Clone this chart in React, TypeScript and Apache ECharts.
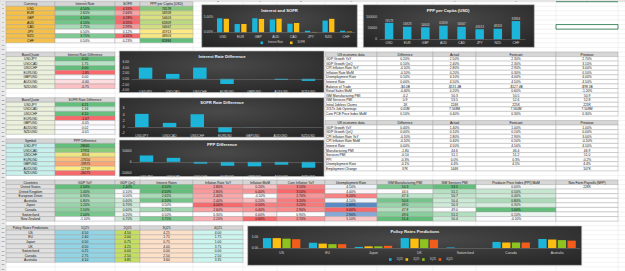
import React, { useEffect, useRef } from 'react';
import * as echarts from 'echarts';

// ---------- DATA ----------
const currencies = ['USD', 'EUR', 'GBP', 'AUD', 'CAD', 'JPY', 'NZD', 'CHF'];
const interestRates = [4.5, 2.65, 4.5, 4.1, 2.75, 0.5, 3.75, 0.5];
const sofrRates = [4.33, 2.66, 4.28, 4.35, 2.99, 0.12, 4.32, 0.23];
const pppPerCapita = [74578, 56928, 54603, 61809, 56667, 45913, 48303, 82884];

const pairs = ['USDJPY', 'USDCAD', 'USDCHF', 'EURUSD', 'GBPUSD', 'AUDUSD', 'NZDUSD'];
const interestDiff = [4.0, 1.75, 4.0, -1.85, 0.0, -0.4, -0.75];
const sofrDiff = [4.21, 1.34, 4.1, -1.67, -0.05, 0.02, -0.01];
const pppDiff = [28665, 17911, -8306, -17650, -19975, -12769, -26275];

const usIndicators = ['GDP Growth YoY', 'GDP Growth QoQ', 'CPI Inflation Rate YoY', 'Inflation Rate MoM', 'Unemployment Rate', 'Interest Rate', 'Balance of Trade', 'Retail Sales MoM', 'ISM Manufacturing PMI', 'ISM Services PMI', 'Initial Jobless Claims', 'JOLTs Job Openings', 'Core PCE Price Index MoM'];
const usDifference = ['0.20%', '0.10%', '-0.10%', '-0.10%', '0.10%', '0.00%', '-$4.0B', '-0.40%', '-0.2', '0.9', '-1K', '0.01M', '0.10%'];
const usActual = ['2.50%', '2.40%', '2.80%', '0.20%', '4.10%', '4.50%', '-$131.4B', '0.20%', '50.3', '53.5', '224K', '7.568M', '0.40%'];
const usForecast = ['2.30%', '2.30%', '2.90%', '0.30%', '4.00%', '4.50%', '-$127.4B', '0.60%', '50.5', '52.6', '225K', '7.560M', '0.30%'];
const usPrevious = ['2.70%', '3.10%', '3.00%', '0.50%', '4.00%', '4.50%', '-$98.1B', '-1.20%', '50.9', '52.8', '223K', '7.508M', '0.30%'];

const ukIndicators = ['GDP Growth YoY', 'GDP Growth QoQ', 'CPI Inflation Rate YoY', 'CPI Inflation Rate MoM', 'Interest Rate', 'Manufacturing PMI', 'Services PMI', 'PPI', 'Unemployment Rate', 'Employment Change'];
const ukDifference = ['0.40%', '0.00%', '-0.10%', '-0.10%', '0.00%', '-1.80', '-0.10', '-0.3%', '-0.1%', '37K'];
const ukActual = ['1.40%', '0.10%', '2.80%', '0.40%', '4.50%', '44.6', '51.1', '0.0%', '4.4%', '144K'];
const ukForecast = ['1.00%', '0.10%', '2.90%', '0.50%', '4.50%', '46.4', '51.2', '0.3%', '4.5%', ''];
const ukPrevious = ['1.00%', '0.00%', '3.00%', '-0.10%', '4.50%', '46.9', '51.0', '-0.2%', '4.4%', '107K'];

const countryHeaders = ['Countries', 'GDP YoY', 'GDP QoQ', 'Interest Rates', 'Inflation Rate YoY', 'Inflation MoM', 'Core Inflation YoY', 'Unemployment Rate', 'ISM Manufacturing PMI', 'ISM Services PMI', 'Producer Price Index (PPI) MoM', 'Non Farm Payrolls (NFP)'];
const countries = ['United States', 'United Kingdom', 'European Union', 'Australia', 'Japan', 'Canada', 'Switzerland', 'New Zealand'];
const gdpYoY = [2.5, 1.4, 0.9, 0.8, 1.2, 1.5, 2.0, -1.1];
const gdpQoQ = [2.4, 0.1, 0.0, 0.6, 0.7, 0.6, 0.2, 0.7];
const countryRates = [4.5, 4.5, 2.65, 4.1, 0.5, 2.75, 0.5, 3.75];
const inflYoY = [2.8, 2.8, 2.4, 2.4, 4.0, 2.6, 0.3, 2.2];
const inflMoM = [0.2, 0.4, -0.1, 0.2, 0.5, 0.4, 0.0, 0.6];
const coreInflYoY = [3.1, 3.5, 2.7, 3.2, 3.2, 2.9, 0.9, 2.7];
const unemployment = [4.1, 4.4, 6.2, 4.1, 2.4, 6.6, 2.9, 5.1];
const ismManufacturing = [50.3, 44.6, 47.3, 50.6, 49.0, 47.8, 49.6, 51.4];
const ismServices = [53.5, 51.1, 50.7, 50.4, 50.3, 49.0, 51.2, 50.4];
const ppiMoM = [0.0, 0.5, 0.4, 0.8, 0.3, 1.6, 0.1, -0.1];
const nfp = ['228K', '', '', '', '', '', '', ''];

const quarters = ['1Q25', '2Q25', '3Q25', '4Q25'];
const policyRegions = ['US', 'EU', 'Japan', 'UK', 'Switzerland', 'Canada', 'Australia'];
const policy1Q25 = [4.5, 2.4, 0.5, 4.5, 0.25, 2.75, 4.1];
const policy2Q25 = [4.5, 2.0, 0.75, 4.25, 0.0, 2.5, 3.85];
const policy3Q25 = [4.25, 1.75, 0.75, 4.0, 0.0, 2.5, 3.6];
const policy4Q25 = [4.0, 1.75, 1.0, 3.75, 0.0, 2.5, 3.35];

const columnLetters = ['A', 'B', 'C', 'D', 'E', 'F', 'G', 'H', 'I', 'J', 'K', 'L'];

// ---------- STYLE ----------
const FONT = "'Liberation Sans', Arial, sans-serif";
const FS = 3.3;
const COLS = [0, 6, 55, 115, 140, 193, 243, 277, 325, 377, 433, 476, 556, 618, 690];
const R0 = 1.7;
const RH = 4.571;
const rowTop = (r: number) => R0 + (r - 1) * RH;

const WHITE = '#FCFCFF';
const GREEN = '#63BE7B';
const RED = '#F8696B';
const YELLOW = '#FFEB84';
const BLUE = '#5A8AC6';
const HEAD = '#d6d6d6';
const LABEL_GRAY = '#e0e0e0';
const CYAN = '#1cb4d9';
const GOLD = '#fdbe12';
const LIME = '#8dc21f';
const ORANGE = '#f25d1b';

function hexToRgb(h: string) {
  const n = parseInt(h.slice(1), 16);
  return [(n >> 16) & 255, (n >> 8) & 255, n & 255];
}
function mix(a: string, b: string, t: number) {
  const A = hexToRgb(a), B = hexToRgb(b);
  const tt = Math.max(0, Math.min(1, t));
  const c = A.map((v, i) => Math.round(v + (B[i] - v) * tt));
  return `rgb(${c.join(',')})`;
}
function scale2(v: number, arr: number[], lo: string, hi: string) {
  const mn = Math.min(...arr), mx = Math.max(...arr);
  return mix(lo, hi, mx === mn ? 0 : (v - mn) / (mx - mn));
}
function median(arr: number[]) {
  const s = [...arr].sort((a, b) => a - b);
  const m = Math.floor(s.length / 2);
  return s.length % 2 ? s[m] : (s[m - 1] + s[m]) / 2;
}
function scale3(v: number, arr: number[], lo: string, mid: string, hi: string, midVal?: number) {
  const mn = Math.min(...arr), mx = Math.max(...arr);
  const md = midVal === undefined ? median(arr) : midVal;
  if (v <= md) return mix(lo, mid, md === mn ? 1 : (v - mn) / (md - mn));
  return mix(mid, hi, mx === md ? 0 : (v - md) / (mx - md));
}
const pct = (v: number) => v.toFixed(2) + '%';

function buildGraphics() {
  const els: any[] = [];
  // sheet gridlines
  for (let r = 1; r <= 61; r++) {
    els.push({ type: 'line', z: -3, shape: { x1: 0, y1: rowTop(r), x2: 625, y2: rowTop(r) }, style: { stroke: '#dddddd', lineWidth: 0.35 } });
  }
  for (let c = 1; c < COLS.length; c++) {
    els.push({ type: 'line', z: -3, shape: { x1: COLS[c], y1: 0, x2: COLS[c], y2: 271 }, style: { stroke: '#dddddd', lineWidth: 0.35 } });
  }
  // headers strips
  els.push({ type: 'rect', z: -2, shape: { x: 0, y: 0, width: 625, height: R0 }, style: { fill: '#e9e9e9', stroke: '#cfcfcf', lineWidth: 0.3 } });
  els.push({ type: 'rect', z: -2, shape: { x: 0, y: R0, width: 6, height: 271 }, style: { fill: '#e9e9e9', stroke: '#cfcfcf', lineWidth: 0.3 } });
  els.push({ type: 'line', z: -1, shape: { x1: COLS[12], y1: R0, x2: COLS[13], y2: R0 }, style: { stroke: '#217346', lineWidth: 0.8 } });
  columnLetters.forEach((l, i) => {
    els.push({ type: 'text', z: -1, x: (COLS[i + 1] + COLS[i + 2]) / 2, y: 0.9, style: { text: l, fill: '#555', fontSize: 2.4, fontFamily: FONT, align: 'center', verticalAlign: 'middle' } });
  });
  for (let r = 1; r <= 59; r++) {
    els.push({ type: 'text', z: -1, x: 3, y: rowTop(r) + RH / 2, style: { text: String(r), fill: '#555', fontSize: 2.3, fontFamily: FONT, align: 'center', verticalAlign: 'middle' } });
  }

  const cell = (c: number, r: number, text: string, fill: string, align: string = 'center') => {
    const x0 = COLS[c], x1 = COLS[c + 1], y0 = rowTop(r);
    els.push({ type: 'rect', z: 1, shape: { x: x0, y: y0, width: x1 - x0, height: RH }, style: { fill, stroke: '#9c9c9c', lineWidth: 0.4 } });
    if (text !== '') {
      els.push({ type: 'text', z: 2, x: align === 'left' ? x0 + 1 : (x0 + x1) / 2, y: y0 + RH / 2 + 0.15, style: { text, fill: '#111', fontSize: FS, fontFamily: FONT, align, verticalAlign: 'middle' } });
    }
  };

  // Table 1
  ['Currency', 'Interest Rate', 'SOFR', 'PPP per Capita (USD)'].forEach((h, i) => cell(1 + i, 1, h, HEAD));
  currencies.forEach((cur, i) => {
    const r = 2 + i;
    cell(1, r, cur, '#f5c04a');
    cell(2, r, pct(interestRates[i]), scale2(interestRates[i], interestRates, WHITE, GREEN));
    cell(3, r, pct(sofrRates[i]), scale2(sofrRates[i], sofrRates, WHITE, RED));
    cell(4, r, String(pppPerCapita[i]), scale2(pppPerCapita[i], pppPerCapita, YELLOW, GREEN));
  });

  // Pair tables
  const pairTable = (startRow: number, h1: string, h2: string, vals: number[], fmt: (v: number) => string, labelFill: string, three: boolean) => {
    cell(1, startRow, h1, HEAD);
    cell(2, startRow, h2, HEAD);
    pairs.forEach((p, i) => {
      const r = startRow + 1 + i;
      cell(1, r, p, labelFill);
      const col = three ? scale3(vals[i], vals, RED, YELLOW, GREEN) : scale3(vals[i], vals, RED, WHITE, GREEN, 0);
      cell(2, r, fmt(vals[i]), col);
    });
  };
  pairTable(12, 'Base/Quote', 'Interest Rate Difference', interestDiff, (v) => v.toFixed(2), '#ebf1dc', false);
  pairTable(22, 'Base/Quote', 'SOFR Rate Difference', sofrDiff, (v) => v.toFixed(2), '#ebf1dc', false);
  pairTable(31, 'Symbol', 'PPP Difference', pppDiff, (v) => String(v), '#c8f0ec', true);

  // Economic tables
  const econTable = (startRow: number, title: string, labels: string[], d: string[], a: string[], f: string[], p: string[]) => {
    [title, 'Difference', 'Actual', 'Forecast', 'Previous'].forEach((h, i) => cell(8 + i, startRow, h, HEAD));
    labels.forEach((l, i) => {
      const r = startRow + 1 + i;
      cell(8, r, l, '#ffffff', 'left');
      cell(9, r, d[i], '#ffffff');
      cell(10, r, a[i], '#ffffff');
      cell(11, r, f[i], '#ffffff');
      cell(12, r, p[i], '#ffffff');
    });
  };
  econTable(12, 'US economic data', usIndicators, usDifference, usActual, usForecast, usPrevious);
  econTable(27, 'UK economic data', ukIndicators, ukDifference, ukActual, ukForecast, ukPrevious);

  // Countries table
  countryHeaders.forEach((h, i) => cell(1 + i, 40, h, HEAD));
  countries.forEach((c, i) => {
    const r = 41 + i;
    cell(1, r, c, LABEL_GRAY);
    cell(2, r, pct(gdpYoY[i]), scale2(gdpYoY[i], gdpYoY, WHITE, GREEN));
    cell(3, r, pct(gdpQoQ[i]), scale2(gdpQoQ[i], gdpQoQ, WHITE, GREEN));
    cell(4, r, pct(countryRates[i]), scale2(countryRates[i], countryRates, WHITE, GREEN));
    cell(5, r, pct(inflYoY[i]), scale2(inflYoY[i], inflYoY, WHITE, RED));
    cell(6, r, pct(inflMoM[i]), scale2(inflMoM[i], inflMoM, WHITE, RED));
    cell(7, r, pct(coreInflYoY[i]), scale2(coreInflYoY[i], coreInflYoY, WHITE, RED));
    cell(8, r, pct(unemployment[i]), scale3(unemployment[i], unemployment, BLUE, WHITE, RED));
    cell(9, r, ismManufacturing[i].toFixed(1), scale2(ismManufacturing[i], ismManufacturing, WHITE, GREEN));
    cell(10, r, ismServices[i].toFixed(1), scale2(ismServices[i], ismServices, WHITE, GREEN));
    cell(11, r, pct(ppiMoM[i]), scale2(ppiMoM[i], ppiMoM, WHITE, GREEN));
    cell(12, r, nfp[i], '#ffffff');
  });

  // Policy table
  ['Policy Rates Predictions', ...quarters].forEach((h, i) => cell(1 + i, 50, h, HEAD));
  const policyCols = [policy1Q25, policy2Q25, policy3Q25, policy4Q25];
  const policyFills = ['#92d3e4', '#c6de62', '#fde0c8', '#cdf5ef'];
  policyRegions.forEach((reg, i) => {
    const r = 51 + i;
    cell(1, r, reg, LABEL_GRAY);
    policyCols.forEach((arr, j) => cell(2 + j, r, arr[i].toFixed(2), policyFills[j]));
  });

  // selected cell
  els.push({ type: 'rect', z: 3, shape: { x: COLS[12], y: rowTop(6), width: COLS[13] - COLS[12], height: RH }, style: { fill: 'none', stroke: '#217346', lineWidth: 0.8 } });

  // Chart boxes
  const box = (x: number, y: number, w: number, h: number) => ({
    type: 'rect', z: -1, shape: { x, y, width: w, height: h },
    style: {
      fill: { type: 'radial', x: 0.5, y: 0.35, r: 0.8, colorStops: [{ offset: 0, color: '#4a4a4a' }, { offset: 1, color: '#242424' }] },
      stroke: '#bdbdbd', lineWidth: 0.6,
    },
  });
  els.push(box(201.7, 4.7, 155.6, 42.6));
  els.push(box(363.3, 4.7, 171, 42.6));
  els.push(box(119.3, 51, 204.7, 41.5));
  els.push(box(119.3, 97.7, 204.7, 39.6));
  els.push(box(119.3, 140, 204.7, 36.5));
  els.push(box(247.7, 226, 334, 39.3));

  const title = (text: string, x: number, y: number) => els.push({
    type: 'text', z: 6, x, y,
    style: { text, fill: '#f2f2f2', fontSize: 4.2, fontWeight: 'bold', fontFamily: FONT, align: 'center', verticalAlign: 'middle' },
  });
  title('Interest and SOFR', 279.5, 10.3);
  title('PPP per Capita (USD)', 448, 10.7);
  title('Interest Rate Difference', 222, 56.3);
  title('SOFR Rate Difference', 222, 102.3);
  title('PPP Difference', 222, 144.5);
  title('Policy Rates Predictions', 415, 231);
  return els;
}

function buildOption() {
  const lbl = { color: '#d9d9d9', fontSize: 3.3, fontFamily: FONT };
  const xCat = (gridIndex: number, data: string[], margin: number) => ({
    type: 'category', gridIndex, data, z: 3,
    axisTick: { show: false },
    axisLine: { show: true, onZero: true, lineStyle: { color: '#7a7a7a', width: 0.5 } },
    axisLabel: { ...lbl, margin, interval: 0 },
  });
  const yVal = (gridIndex: number, min: number, max: number, interval: number, margin: number, formatter: (v: number) => string) => ({
    type: 'value', gridIndex, min, max, interval,
    splitLine: { show: false }, axisLine: { show: false }, axisTick: { show: false },
    axisLabel: { ...lbl, margin, formatter },
  });
  const legendBase = {
    padding: 0, itemWidth: 2.6, itemHeight: 2.6, itemTextGap: 1.5, icon: 'rect',
    textStyle: { color: '#d9d9d9', fontSize: 2.6, fontFamily: FONT },
  };
  return {
    animation: false,
    backgroundColor: '#ffffff',
    graphic: { elements: buildGraphics() },
    grid: [
      { left: 214.2, top: 16.7, width: 140.6, height: 15.6 },
      { left: 380, top: 17.3, width: 145, height: 22 },
      { left: 132, top: 62, width: 190, height: 28 },
      { left: 128, top: 108.3, width: 194, height: 25 },
      { left: 133, top: 150.7, width: 189, height: 22.3 },
      { left: 258.7, top: 237, width: 321.3, height: 11 },
    ],
    xAxis: [
      xCat(0, currencies, 3.3),
      xCat(1, currencies, 2.3),
      xCat(2, pairs, 0.7),
      xCat(3, pairs, 0.8),
      xCat(4, pairs, 2.6),
      xCat(5, policyRegions, 3.3),
    ],
    yAxis: [
      yVal(0, 0, 5, 5, 1, (v) => v.toFixed(2) + '%'),
      yVal(1, 0, 100000, 50000, 3, (v) => String(v)),
      yVal(2, -4, 6, 2, 3, (v) => v.toFixed(2)),
      yVal(3, -2, 6, 2, 3.5, (v) => String(v)),
      yVal(4, -50000, 50000, 50000, 1.5, (v) => String(v)),
      yVal(5, 0, 5, 5, 0.5, (v) => v.toFixed(2)),
    ],
    legend: [
      { ...legendBase, data: ['Interest Rate', 'SOFR'], left: 260.5, top: 41.3, itemGap: 7 },
      { ...legendBase, data: quarters, left: 389, top: 258, itemGap: 2.6 },
    ],
    series: [
      { type: 'bar', name: 'Interest Rate', xAxisIndex: 0, yAxisIndex: 0, data: interestRates, barWidth: 5.3, barGap: '25%', itemStyle: { color: CYAN } },
      { type: 'bar', name: 'SOFR', xAxisIndex: 0, yAxisIndex: 0, data: sofrRates, barWidth: 5.3, barGap: '25%', itemStyle: { color: GOLD } },
      {
        type: 'bar', name: 'PPP per Capita (USD)', xAxisIndex: 1, yAxisIndex: 1, data: pppPerCapita, barWidth: 8.5, itemStyle: { color: CYAN },
        label: { show: true, position: 'top', distance: 1.2, color: '#d9d9d9', fontSize: 3, fontFamily: FONT },
      },
      { type: 'bar', name: 'Interest Rate Difference', xAxisIndex: 2, yAxisIndex: 2, data: interestDiff, barWidth: 13.5, itemStyle: { color: CYAN } },
      { type: 'bar', name: 'SOFR Rate Difference', xAxisIndex: 3, yAxisIndex: 3, data: sofrDiff, barWidth: 13.5, itemStyle: { color: CYAN } },
      { type: 'bar', name: 'PPP Difference', xAxisIndex: 4, yAxisIndex: 4, data: pppDiff, barWidth: 13.5, itemStyle: { color: CYAN } },
      { type: 'bar', name: '1Q25', xAxisIndex: 5, yAxisIndex: 5, data: policy1Q25, barWidth: 8.3, barGap: '17%', itemStyle: { color: CYAN } },
      { type: 'bar', name: '2Q25', xAxisIndex: 5, yAxisIndex: 5, data: policy2Q25, barWidth: 8.3, barGap: '17%', itemStyle: { color: GOLD } },
      { type: 'bar', name: '3Q25', xAxisIndex: 5, yAxisIndex: 5, data: policy3Q25, barWidth: 8.3, barGap: '17%', itemStyle: { color: LIME } },
      { type: 'bar', name: '4Q25', xAxisIndex: 5, yAxisIndex: 5, data: policy4Q25, barWidth: 8.3, barGap: '17%', itemStyle: { color: ORANGE } },
    ],
  };
}

export default function App() {
  const ref = useRef<HTMLDivElement>(null);
  useEffect(() => {
    document.body.style.margin = '0';
    const chart = echarts.init(ref.current as HTMLDivElement, null, { renderer: 'svg' });
    chart.setOption(buildOption() as any);
    return () => chart.dispose();
  }, []);
  return <div ref={ref} style={{ position: 'absolute', left: 0, top: 0, width: 625, height: 271, background: '#fff' }} />;
}
